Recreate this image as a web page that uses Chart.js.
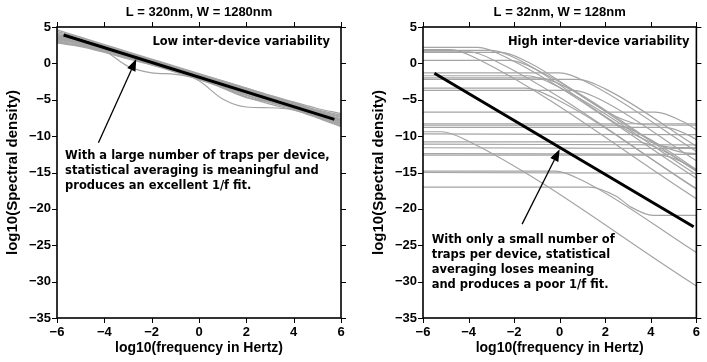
<!DOCTYPE html>
<html lang="en">
<head>
<meta charset="UTF-8">
<title>Spectral density of devices</title>
<script src="https://cdn.jsdelivr.net/npm/chart.js"></script>
<style>
  html, body { margin: 0; padding: 0; background: #fff; }
  #wrap { position: relative; width: 707px; height: 362px; }
  .panel { position: absolute; top: 0; }
</style>
</head>
<body>
<div id="wrap">
  <div class="panel" style="left:0"><canvas id="leftChart" width="353" height="362"></canvas></div>
  <div class="panel" style="left:353px"><canvas id="rightChart" width="354" height="362"></canvas></div>
</div>
<script>
// log10(frequency) sample points for the large devices
const leftFreq = [-6, -5, -4, -3, -2, -1, 0, 1, 2, 3, 4, 5, 6];

// log10(spectral density), one row per device (L = 320nm)
const leftCurves = [
  [4.6, 3.6, 2.6, 1.6, 0.6, -0.4, -1.4, -2.4, -3.4, -4.4, -5.3, -6.2, -6.9],
  [4.4, 3.5, 2.5, 1.5, 0.5, -0.5, -1.5, -2.5, -3.5, -4.5, -5.4, -6.4, -7.1],
  [4.2, 3.3, 2.4, 1.4, 0.5, -0.5, -1.5, -2.4, -3.4, -4.4, -5.5, -6.5, -7.3],
  [4.0, 3.2, 2.3, 1.4, 0.4, -0.6, -1.6, -2.6, -3.6, -4.6, -5.6, -6.6, -7.4],
  [3.9, 3.1, 2.3, 1.3, 0.3, -0.7, -1.6, -2.6, -3.6, -4.7, -5.7, -6.7, -7.6],
  [3.8, 3.0, 2.2, 1.3, 0.3, -0.7, -1.7, -2.7, -3.7, -4.7, -5.6, -6.6, -7.7],
  [3.7, 3.0, 2.1, 1.2, 0.2, -0.8, -1.7, -2.7, -3.7, -4.8, -5.8, -6.8, -7.8],
  [3.6, 2.9, 2.0, 1.1, 0.2, -0.8, -1.8, -2.8, -3.8, -4.8, -5.9, -6.9, -7.9],
  [3.5, 2.8, 2.0, 1.1, 0.1, -0.9, -1.8, -2.8, -3.9, -4.9, -5.8, -6.8, -8.0],
  [3.4, 2.7, 1.9, 1.0, 0.0, -0.9, -1.9, -2.9, -3.9, -5.0, -6.0, -7.0, -8.1],
  [3.3, 2.7, 1.9, 0.9, 0.0, -1.0, -1.9, -2.9, -4.1, -5.1, -6.0, -7.1, -8.2],
  [3.2, 2.6, 1.8, 0.9, -0.1, -1.0, -2.0, -3.0, -4.1, -5.2, -6.1, -7.2, -8.3],
  [3.1, 2.5, 1.7, 0.8, -0.1, -1.1, -2.0, -3.1, -4.3, -5.3, -6.2, -7.3, -8.5],
  [2.9, 2.4, 1.6, 0.7, -0.2, -1.1, -2.1, -3.2, -4.4, -5.4, -6.3, -7.4, -8.6],
  [2.8, 2.3, 1.5, 0.6, -0.2, -1.2, -2.2, -3.3, -4.6, -5.6, -6.4, -7.5, -8.7],
  [3.0, 2.4, 1.7, -0.4, -1.3, -1.5, -2.1, -2.9, -3.9, -4.9, -5.9, -6.9, -7.9],
  [3.4, 2.8, 1.9, 1.0, 0.1, -1.0, -2.4, -4.9, -6.0, -6.1, -6.4, -7.3, -8.4],
  [3.5, 2.8, 2.0, 1.0, 0.0, -1.0, -2.2, -3.4, -4.7, -5.3, -5.8, -6.7, -7.9]
];

// 1/f fit, large devices
const leftFit = [[-5.72, 3.9], [5.72, -7.7]];

// small devices (L = 32nm): [log10 f, log10 S] points per device
const rightCurves = [
  [[-6, 2.2], [-3.6, 2.2], [-2.4, 0.9], [6, -15.8]],
  [[-6, 1.9], [-4.8, 1.9], [-3.6, 0.6], [6, -18.6]],
  [[-6, 1.8], [-3.0, 1.8], [-1.8, 0.5], [3.6, -10.3], [4.8, -11.5], [6, -11.6]],
  [[-6, 1.6], [-4.0, 1.6], [-2.8, 0.3], [6, -17.2]],
  [[-6, 1.5], [-2.6, 1.5], [-1.4, 0.2], [2.4, -7.2], [3.6, -8.4], [6, -8.5]],
  [[-6, 0.4], [-2.2, 0.4], [-1.0, -0.9], [6, -14.8]],
  [[-6, -1.3], [0.0, -1.3], [1.2, -2.6], [6, -12.1]],
  [[-6, -1.7], [-1.4, -1.7], [-0.2, -3.0], [6, -15.3]],
  [[-6, -2.0], [-0.9, -2.0], [0.3, -3.3], [4.3, -11.1], [5.5, -12.3], [6, -12.4]],
  [[-6, -2.2], [0.8, -2.2], [2.0, -3.5], [6, -11.4]],
  [[-6, -3.4], [-1.5, -3.4], [-0.3, -4.7], [6, -17.3]],
  [[-6, -3.7], [0.6, -3.7], [1.8, -5.0], [6, -13.4]],
  [[-6, -6.7], [4.2, -6.7], [5.4, -8.0], [6, -9.1]],
  [[-6, -8.3], [6, -8.3]],
  [[-6, -8.5], [2.4, -8.5], [3.6, -9.8], [6, -14.6]],
  [[-6, -8.8], [4.6, -8.8], [5.8, -10.1], [6, -10.5]],
  [[-6, -9.4], [-5.2, -9.4], [-4.0, -10.7], [6, -30.6]],
  [[-6, -9.7], [6, -9.8]],
  [[-6, -10.8], [3.4, -10.8], [4.6, -12.1], [6, -14.8]],
  [[-6, -11.1], [6, -11.2]],
  [[-6, -11.6], [6, -11.7]],
  [[-6, -12.4], [6, -12.5]],
  [[-6, -12.6], [4.4, -12.6], [5.6, -13.9], [6, -14.7]],
  [[-6, -14.8], [-0.2, -14.8], [1.0, -16.1], [6, -26.0]],
  [[-6, -15.0], [6, -15.1]],
  [[-6, -17.0], [1.3, -17.0], [2.5, -18.3], [3.1, -19.7], [4.1, -20.9], [6, -20.9]]
];

// 1/f fit, small devices
const rightFit = [[-5.5, -1.36], [5.88, -22.45]];

const xTicks = { min: -6, max: 6, step: 2 };
const yTicks = { min: -35, max: 5, step: 5 };

const minus = v => (v < 0 ? '\u2212' + Math.abs(v) : String(v));

// box, outward ticks on all sides, titles, notes and arrow
const framePlugin = {
  id: 'frame',
  afterDraw(chart, args, o) {
    const { ctx, chartArea: a, scales: { x, y } } = chart;
    ctx.save();
    ctx.strokeStyle = '#000';
    ctx.fillStyle = '#000';
    ctx.lineWidth = 1;
    ctx.beginPath();
    x.ticks.forEach(t => {
      const px = Math.round(x.getPixelForValue(t.value)) + 0.5;
      ctx.moveTo(px, a.bottom); ctx.lineTo(px, a.bottom + 5);
      ctx.moveTo(px, a.top); ctx.lineTo(px, a.top - 5);
    });
    y.ticks.forEach(t => {
      const py = Math.round(y.getPixelForValue(t.value)) + 0.5;
      ctx.moveTo(a.left, py); ctx.lineTo(a.left - 5, py);
      ctx.moveTo(a.right, py); ctx.lineTo(a.right + 5, py);
    });
    ctx.stroke();
    ctx.lineWidth = 1.6;
    ctx.strokeRect(a.left, a.top, a.right - a.left, a.bottom - a.top);

    const cx = (a.left + a.right) / 2;
    ctx.textBaseline = 'middle';
    ctx.textAlign = 'center';
    ctx.font = 'bold 13px "Liberation Sans", Arial, sans-serif';
    ctx.fillText(o.title, cx, 12.5);
    ctx.font = 'bold 14px "Liberation Sans", Arial, sans-serif';
    ctx.fillText('log10(frequency in Hertz)', cx, 348);
    ctx.save();
    ctx.translate(a.left - 44.5, (a.top + a.bottom) / 2);
    ctx.rotate(-Math.PI / 2);
    ctx.font = 'bold 15px "Liberation Sans", Arial, sans-serif';
    ctx.fillText('log10(Spectral density)', 0, 0);
    ctx.restore();

    ctx.font = 'bold 11.5px "DejaVu Sans", sans-serif';
    ctx.textAlign = 'right';
    ctx.fillText(o.corner.text, x.getPixelForValue(o.corner.x), y.getPixelForValue(o.corner.y));
    ctx.textAlign = 'left';
    const nx = x.getPixelForValue(o.note.x);
    const ny = y.getPixelForValue(o.note.y);
    o.note.lines.forEach((line, i) => ctx.fillText(line, nx, ny + i * 15));

    // arrow
    const x0 = x.getPixelForValue(o.arrow.from[0]), y0 = y.getPixelForValue(o.arrow.from[1]);
    const x1 = x.getPixelForValue(o.arrow.to[0]), y1 = y.getPixelForValue(o.arrow.to[1]);
    const ang = Math.atan2(y1 - y0, x1 - x0);
    const hl = 12, hw = 4.5;
    const bx = x1 - hl * Math.cos(ang), by = y1 - hl * Math.sin(ang);
    ctx.lineWidth = 1.3;
    ctx.beginPath();
    ctx.moveTo(x0, y0); ctx.lineTo(bx, by);
    ctx.stroke();
    ctx.beginPath();
    ctx.moveTo(x1, y1);
    ctx.lineTo(bx + hw * Math.sin(ang), by - hw * Math.cos(ang));
    ctx.lineTo(bx - hw * Math.sin(ang), by + hw * Math.cos(ang));
    ctx.closePath();
    ctx.fill();
    ctx.restore();
  }
};

function grayLine(points) {
  return {
    data: points,
    borderColor: '#a4a4a4',
    borderWidth: 1.2,
    pointRadius: 0,
    showLine: true,
    cubicInterpolationMode: 'monotone'
  };
}

function fitLine(fit) {
  return {
    data: fit.map(p => ({ x: p[0], y: p[1] })),
    borderColor: '#000',
    borderWidth: 3,
    pointRadius: 0,
    showLine: true
  };
}

function makeChart(id, grayData, fit, deco, yWidth, padRight) {
  // dataset 0 is drawn last, so the fit line sits on top
  const datasets = [fitLine(fit)].concat(grayData.map(grayLine));
  return new Chart(document.getElementById(id), {
    type: 'scatter',
    data: { datasets },
    options: {
      responsive: false,
      animation: false,
      events: [],
      layout: { padding: { left: 0, right: padRight, top: 27, bottom: 0 } },
      plugins: { legend: { display: false }, tooltip: { enabled: false }, frame: deco },
      scales: {
        x: {
          type: 'linear',
          min: xTicks.min, max: xTicks.max,
          grid: { display: false, drawTicks: false },
          border: { display: false },
          ticks: {
            stepSize: xTicks.step, padding: 7, color: '#000', maxRotation: 0,
            font: { family: '"Liberation Sans", Arial, sans-serif', size: 13, weight: 'bold' },
            callback: minus
          },
          afterFit: s => { s.height = 44; }
        },
        y: {
          type: 'linear',
          min: yTicks.min, max: yTicks.max,
          grid: { display: false, drawTicks: false },
          border: { display: false },
          ticks: {
            stepSize: yTicks.step, padding: 6, color: '#000',
            font: { family: '"Liberation Sans", Arial, sans-serif', size: 13, weight: 'bold' },
            callback: minus
          },
          afterFit: s => { s.width = yWidth; }
        }
      }
    },
    plugins: [framePlugin]
  });
}

makeChart('leftChart',
  leftCurves.map(row => row.map((v, i) => ({ x: leftFreq[i], y: v }))),
  leftFit,
  {
    title: 'L = 320nm, W = 1280nm',
    corner: { text: 'Low inter-device variability', x: 5.53, y: 2.94 },
    note: {
      x: -5.66, y: -12.7,
      lines: ['With a large number of traps per device,',
              'statistical averaging is meaningful and',
              'produces an excellent 1/f fit.']
    },
    arrow: { from: [-4.25, -10.9], to: [-2.65, 0.6] }
  },
  57, 12);

makeChart('rightChart',
  rightCurves.map(pts => pts.map(p => ({ x: p[0], y: p[1] }))),
  rightFit,
  {
    title: 'L = 32nm, W = 128nm',
    corner: { text: 'High inter-device variability', x: 5.70, y: 2.94 },
    note: {
      x: -5.62, y: -24.3,
      lines: ['With only a small number of',
              'traps per device, statistical',
              'averaging loses meaning',
              'and produces a poor 1/f fit.']
    },
    arrow: { from: [-1.65, -22.1], to: [0, -11.8] }
  },
  70, 2);
</script>
</body>
</html>
